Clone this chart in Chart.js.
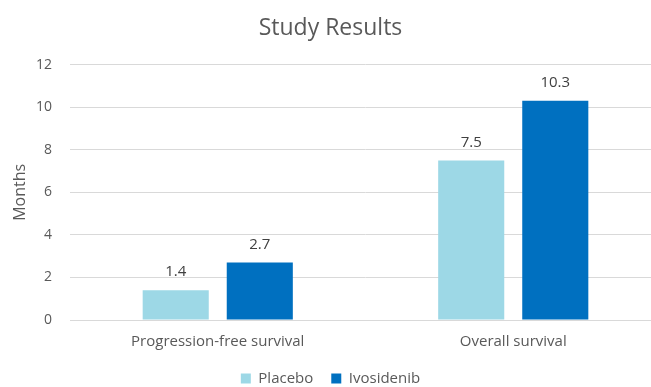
<!DOCTYPE html>
<html>
<head>
<meta charset="utf-8">
<script src="https://cdn.jsdelivr.net/npm/chart.js@4/dist/chart.umd.min.js"></script>
<style>
  html, body { margin: 0; padding: 0; background: #fff; overflow: hidden; }
  #wrap { width: 661px; height: 387px; }
</style>
</head>
<body>
<div id="wrap"><canvas id="chart" width="661" height="387"></canvas></div>
<script>
// ── Data ──
var categories = ['Progression-free survival', 'Overall survival'];
var placeboValues = [1.4, 7.5];
var ivosidenibValues = [2.7, 10.3];
var yTicks = [0, 2, 4, 6, 8, 10, 12];

var textColor = '#595959';
var fontFamily = "'Open Sans', sans-serif";

// ── Value labels above bars ──
var barLabels = {
    id: 'barLabels',
    afterDatasetsDraw: function (chart) {
        var ctx = chart.ctx;
        ctx.save();
        ctx.fillStyle = '#404040';
        ctx.font = "15px " + fontFamily;
        ctx.textAlign = 'center';
        ctx.textBaseline = 'middle';
        chart.data.datasets.forEach(function (ds, i) {
            chart.getDatasetMeta(i).data.forEach(function (bar, j) {
                ctx.fillText(ds.data[j].toString(), bar.x, bar.y - 18);
            });
        });
        ctx.restore();
    }
};

new Chart(document.getElementById('chart'), {
    type: 'bar',
    data: {
        labels: categories,
        datasets: [
            { label: 'Placebo', data: placeboValues, backgroundColor: '#9dd8e6' },
            { label: 'Ivosidenib', data: ivosidenibValues, backgroundColor: '#0070c0' }
        ]
    },
    options: {
        responsive: false,
        animation: false,
        categoryPercentage: 0.569,
        barPercentage: 0.786,
        // negative bottom padding pushes the legend down toward the canvas edge
        layout: { padding: { left: 0, right: 0, top: 0, bottom: -9 } },
        plugins: {
            title: {
                display: true,
                text: 'Study Results',
                color: textColor,
                font: { family: fontFamily, size: 23, weight: 'normal' },
                padding: { top: 15, bottom: 22 }
            },
            legend: {
                position: 'bottom',
                labels: {
                    color: textColor,
                    font: { family: fontFamily, size: 15 },
                    boxWidth: 10,
                    boxHeight: 10,
                    padding: 18
                }
            },
            tooltip: { enabled: false }
        },
        scales: {
            x: {
                afterFit: function (scale) { scale.height = 33; },
                grid: { display: false, drawTicks: false },
                border: { display: true, color: '#d9d9d9' },
                ticks: { color: textColor, font: { family: fontFamily, size: 15 }, padding: 13 }
            },
            y: {
                min: 0,
                max: 12,
                afterBuildTicks: function (scale) {
                    scale.ticks = yTicks.map(function (v) { return { value: v }; });
                },
                afterFit: function (scale) { scale.width = 70; },
                grid: { color: '#d9d9d9', drawTicks: false },
                border: { display: false },
                ticks: { color: textColor, font: { family: fontFamily, size: 14 }, padding: 18 },
                title: {
                    display: true,
                    text: 'Months',
                    color: textColor,
                    font: { family: fontFamily, size: 16 },
                    padding: { top: 11, bottom: 0 }
                }
            }
        }
    },
    plugins: [barLabels]
});
</script>
</body>
</html>
